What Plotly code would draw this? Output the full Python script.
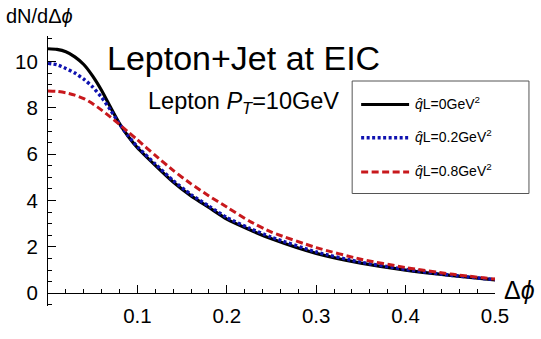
import plotly.graph_objects as go

# Azimuthal decorrelation dN/dΔφ for three values of the jet transport coefficient
dphi = [0.0, 0.01, 0.02, 0.03, 0.04, 0.05, 0.06, 0.07, 0.08, 0.09, 0.10,
        0.12, 0.14, 0.16, 0.18, 0.20, 0.225, 0.25, 0.30, 0.35, 0.40, 0.45, 0.50]

qL0 = [10.55, 10.52, 10.42, 10.20, 9.87, 9.37, 8.75, 8.02, 7.32, 6.75, 6.28,
       5.52, 4.80, 4.20, 3.70, 3.20, 2.75, 2.35, 1.72, 1.30, 1.00, 0.77, 0.58]
qL02 = [9.92, 9.86, 9.70, 9.50, 9.24, 8.90, 8.45, 7.90, 7.30, 6.78, 6.32,
        5.58, 4.86, 4.26, 3.76, 3.27, 2.81, 2.42, 1.78, 1.34, 1.03, 0.78, 0.59]
qL08 = [8.73, 8.71, 8.65, 8.55, 8.40, 8.18, 7.90, 7.60, 7.28, 6.95, 6.62,
        5.95, 5.30, 4.72, 4.20, 3.72, 3.12, 2.64, 1.97, 1.47, 1.11, 0.83, 0.61]

series = [
    ("<i>q̂</i>L=0GeV<sup>2</sup>", qL0, "#000000", "solid", 3.2),
    ("<i>q̂</i>L=0.2GeV<sup>2</sup>", qL02, "#0f12b0", "3px,2.5px", 3.4),
    ("<i>q̂</i>L=0.8GeV<sup>2</sup>", qL08, "#c8181c", "7px,3.5px", 3.0),
]

xtick_vals = [0.1, 0.2, 0.3, 0.4, 0.5]
ytick_vals = [0, 2, 4, 6, 8, 10]

XR = [0.0, 0.5]
YR = [-0.55, 11.1]

W, H = 541, 339
ML, MR, MT, MB = 47.5, 46, 36, 27
PW, PH = W - ML - MR, H - MT - MB


def px(x):
    return (x - ML) / PW


def py(y):
    return (H - MB - y) / PH


FONT = "Liberation Sans, Arial, Helvetica, sans-serif"

fig = go.Figure()
for name, vals, color, dash, width in series:
    fig.add_trace(go.Scatter(
        x=dphi, y=vals, mode="lines", name=name, showlegend=False,
        line=dict(color=color, dash=dash, width=width, shape="spline", smoothing=0.6),
    ))

shapes = []
annotations = []

# legend box with line samples
shapes.append(dict(type="rect", xref="paper", yref="paper",
                   x0=px(352), x1=px(529), y0=py(82), y1=py(197),
                   line=dict(color="#555555", width=1), fillcolor="white", layer="above"))
rows = [106, 140, 175]
for (name, vals, color, dash, width), r in zip(series, rows):
    shapes.append(dict(type="line", xref="paper", yref="paper",
                       x0=px(361), x1=px(409), y0=py(r), y1=py(r),
                       line=dict(color=color, dash=dash, width=width), layer="above"))
    annotations.append(dict(xref="paper", yref="paper", x=px(413), y=py(r - 2),
                            text=name, showarrow=False, xanchor="left", yanchor="middle",
                            font=dict(size=14, color="black", family=FONT)))

annotations += [
    dict(xref="paper", yref="paper", x=px(243), y=py(58), text="Lepton+Jet at EIC",
         showarrow=False, xanchor="center", yanchor="middle",
         font=dict(size=34, color="black", family=FONT)),
    dict(xref="paper", yref="paper", x=px(146), y=py(104),
         text="Lepton <i>P<sub>T</sub></i>=10GeV",
         showarrow=False, xanchor="left", yanchor="middle",
         font=dict(size=23.5, color="black", family=FONT)),
    dict(xref="paper", yref="paper", x=px(3), y=py(16), text="dN/dΔ<i>ϕ</i>",
         showarrow=False, xanchor="left", yanchor="middle",
         font=dict(size=20, color="black", family=FONT)),
    dict(xref="paper", yref="paper", x=px(502), y=py(296), text="Δ<i>ϕ</i>",
         showarrow=False, xanchor="left", yanchor="middle",
         font=dict(size=25, color="black", family=FONT)),
]

fig.update_layout(
    width=W, height=H,
    margin=dict(l=ML, r=MR, t=MT, b=MB, pad=0),
    paper_bgcolor="white", plot_bgcolor="white",
    showlegend=False,
    shapes=shapes, annotations=annotations,
    font=dict(family=FONT, color="black"),
    xaxis=dict(
        range=XR, anchor="free", position=(0 - YR[0]) / (YR[1] - YR[0]),
        showgrid=False, zeroline=False, showline=True, linecolor="black", linewidth=1,
        tickmode="array", tickvals=xtick_vals, ticktext=[f"{v:.1f}" for v in xtick_vals],
        ticks="inside", ticklen=8, tickcolor="black", tickwidth=1,
        tickfont=dict(size=20.5, family=FONT), ticklabelstandoff=4,
        minor=dict(ticks="inside", dtick=0.02, tick0=0, ticklen=4, tickcolor="black", showgrid=False),
    ),
    yaxis=dict(
        range=YR, showgrid=False, zeroline=False, showline=True, linecolor="black", linewidth=1,
        tickmode="array", tickvals=ytick_vals,
        ticks="inside", ticklen=8, tickcolor="black", tickwidth=1,
        tickfont=dict(size=20.5, family=FONT), ticklabelstandoff=5,
        minor=dict(ticks="inside", dtick=0.5, tick0=0, ticklen=4, tickcolor="black", showgrid=False),
    ),
)

fig.write_html("out.html")
